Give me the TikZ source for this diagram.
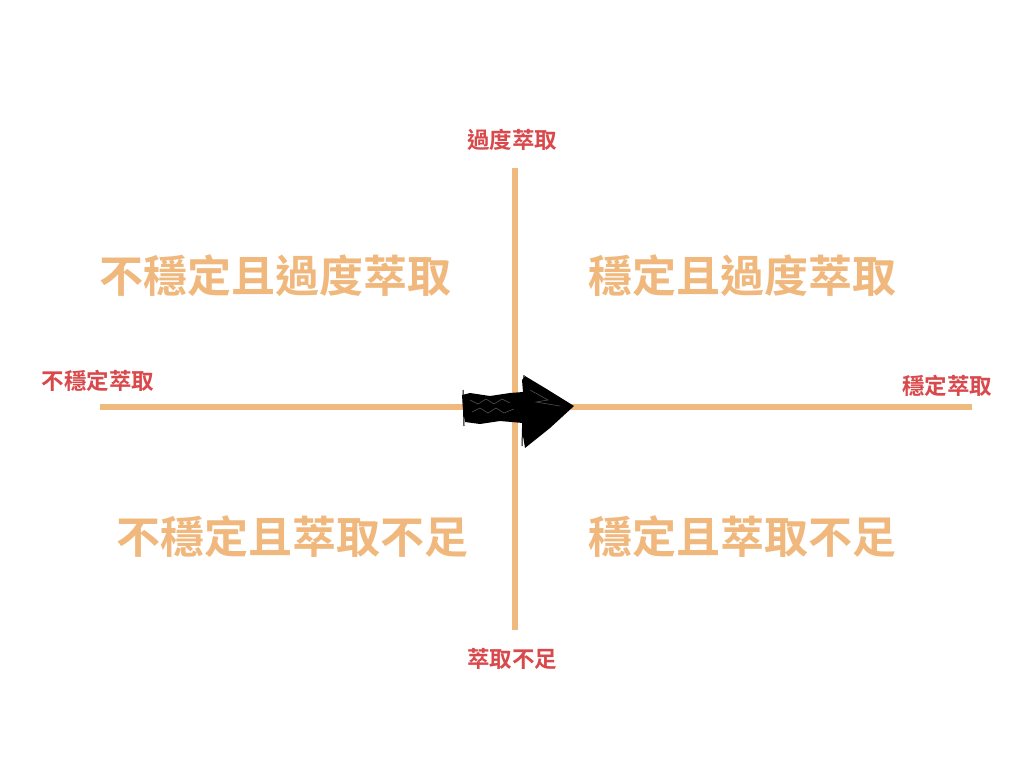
\documentclass[tikz,border=0pt]{standalone}
\usepackage{fontspec}
\newfontfamily\cjk{Noto Sans CJK TC}[BoldFont={Noto Sans CJK TC Bold}]
\definecolor{axisorange}{HTML}{F0B97E}
\definecolor{quadorange}{HTML}{F0B87C}
\definecolor{labelred}{HTML}{D9484B}
\tikzset{
  axis/.style={draw=axisorange, line width=5.5pt},
  quad/.style={text=quadorange, font=\cjk\bfseries\fontsize{44}{48}\selectfont, inner sep=0pt},
  endlabel/.style={text=labelred, font=\cjk\bfseries\fontsize{22.5}{26}\selectfont, inner sep=0pt},
  scribble/.style={draw=gray!60, line width=0.5pt, opacity=0.5},
}
\begin{document}
\begin{tikzpicture}[x=1pt,y=-1pt]
\useasboundingbox (0,0) rectangle (1024,768);
\fill[white] (0,0) rectangle (1024,768);
\coordinate (top) at (515,168);
\coordinate (bottom) at (515,630);
\coordinate (left) at (100,407);
\coordinate (right) at (972,407);
\draw[axis] (top) -- (bottom);
\draw[axis] (left) -- (right);
\node[endlabel] (ltop) at (512,140) {過度萃取};
\node[endlabel] (lbottom) at (512,659) {萃取不足};
\node[endlabel] (lleft) at (98,381) {不穩定萃取};
\node[endlabel] (lright) at (947,386) {穩定萃取};
\node[quad] (q1) at (275,276) {不穩定且過度萃取};
\node[quad] (q2) at (742,276) {穩定且過度萃取};
\node[quad] (q3) at (292,537) {不穩定且萃取不足};
\node[quad] (q4) at (742,537) {穩定且萃取不足};
% sketched arrow
\fill[black] (462,395) -- (470,393) -- (490,396) -- (510,393) -- (523,392)
  -- (522,380) -- (525,376) -- (545,388) -- (574,406) -- (550,428)
  -- (525,448) -- (523,436) -- (523,423) -- (500,421) -- (480,424) -- (465,422)
  -- (463,410) -- cycle;
\draw[black, line width=1pt] (463,390) -- (464,426);
\draw[black, line width=1pt] (524,375) -- (522,446);
\draw[scribble] (470,400) -- (478,404) -- (486,399) -- (494,404) -- (502,399) -- (510,403);
\draw[scribble] (472,412) -- (480,408) -- (488,413) -- (496,408) -- (504,413) -- (514,409);
\draw[scribble] (530,390) -- (548,400) -- (536,402) -- (560,406);
\end{tikzpicture}
\end{document}
